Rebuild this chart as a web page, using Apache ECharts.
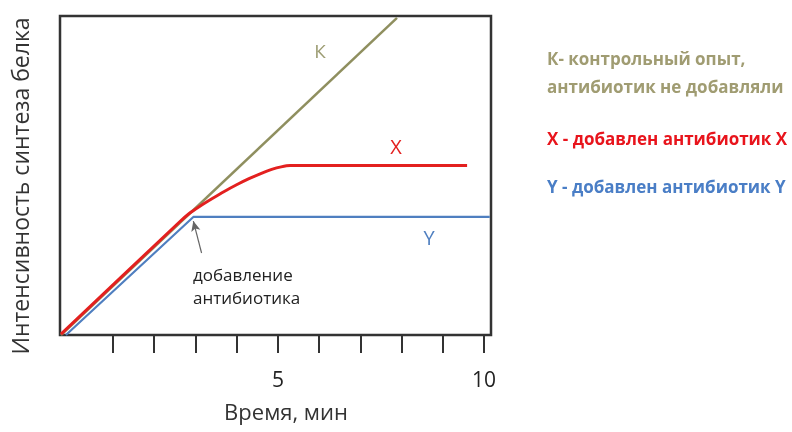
<!DOCTYPE html>
<html><head><meta charset="utf-8">
<script src="https://cdn.jsdelivr.net/npm/echarts@6/dist/echarts.min.js"></script>
<style>html,body{margin:0;padding:0;background:#fff}#c{width:792px;height:432px}</style>
</head><body><div id="c"></div>
<script>
// Time (min) vs intensity (arbitrary units)
const seriesK = [[-0.26, 0.0], [7.89, 9.94]];
const seriesX = [[-0.26, 0.03], [2.62, 3.55], [2.85, 3.81], [3.1, 4.03], [3.4, 4.27], [3.7, 4.50], [4.0, 4.71], [4.3, 4.90], [4.6, 5.07], [4.85, 5.19], [5.08, 5.27], [5.3, 5.31], [9.59, 5.31]];
const seriesY = [[-0.14, 0.0], [2.95, 3.70], [10.14, 3.70]];
const tickValues = [1, 2, 3, 4, 5, 6, 7, 8, 9, 10];
const tickLabels = {5: '5', 10: '10'};
const arrowFrom = [3.15, 2.57];
const arrowTo = [2.95, 3.57];

const colK = '#8f8f5f', colX = '#e3201f', colY = '#4f7fc0';
const chart = echarts.init(document.getElementById('c'));
const font = 'Open Sans';
chart.setOption({
  animation: false,
  grid: [
    {left: 60, right: 301, top: 16, bottom: 97, show: true, borderColor: '#333', borderWidth: 2.5},
    {left: 113, right: 308, top: 16, bottom: 97}
  ],
  xAxis: [
    {gridIndex: 0, type: 'value', min: -0.284, max: 10.17, show: false},
    {gridIndex: 1, type: 'value', min: tickValues[0], max: tickValues[tickValues.length - 1], interval: 1,
     axisLine: {show: false}, splitLine: {show: false},
     axisTick: {show: true, inside: false, length: 18, lineStyle: {color: '#333', width: 2}},
     axisLabel: {margin: 36, fontSize: 21, color: '#222', fontFamily: font,
       formatter: v => tickLabels[v] || ''}}
  ],
  yAxis: [
    {gridIndex: 0, type: 'value', min: 0, max: 10, show: false},
    {gridIndex: 1, type: 'value', min: 0, max: 10, show: false}
  ],
  series: [
    {type: 'line', xAxisIndex: 0, yAxisIndex: 0, data: seriesK, symbol: 'none',
     lineStyle: {color: colK, width: 2.5}},
    {type: 'line', xAxisIndex: 0, yAxisIndex: 0, data: seriesY, symbol: 'none',
     lineStyle: {color: colY, width: 2.2},
     markLine: {silent: true, symbol: ['none', 'arrow'], symbolSize: [7, 10], label: {show: false},
       lineStyle: {color: '#666', width: 1.2, type: 'solid'},
       data: [[{coord: arrowFrom}, {coord: arrowTo}]]}},
    {type: 'line', xAxisIndex: 0, yAxisIndex: 0, data: seriesX, symbol: 'none', smooth: 0.2,
     lineStyle: {color: colX, width: 3}}
  ],
  graphic: [
    {type: 'text', x: 22, y: 186, rotation: Math.PI / 2, style: {text: 'Интенсивность синтеза белка', font: '23px "Open Sans"', fill: '#333', textAlign: 'center', textVerticalAlign: 'middle'}},
    {type: 'text', x: 286, y: 414, style: {text: 'Время, мин', font: '22px "Open Sans"', fill: '#333', textAlign: 'center', textVerticalAlign: 'middle'}},
    {type: 'text', x: 320, y: 53, style: {text: 'К', font: '19px "Open Sans"', fill: '#9c9c72', textAlign: 'center', textVerticalAlign: 'middle'}},
    {type: 'text', x: 396, y: 148, style: {text: 'X', font: '20px "Open Sans"', fill: colX, textAlign: 'center', textVerticalAlign: 'middle'}},
    {type: 'text', x: 429, y: 239, style: {text: 'Y', font: '20px "Open Sans"', fill: colY, textAlign: 'center', textVerticalAlign: 'middle'}},
    {type: 'text', x: 193, y: 276, style: {text: 'добавление', font: '17px "Open Sans"', fill: '#222', textVerticalAlign: 'middle'}},
    {type: 'text', x: 193, y: 299, style: {text: 'антибиотика', font: '17px "Open Sans"', fill: '#222', textVerticalAlign: 'middle'}},
    {type: 'text', x: 547, y: 60, style: {text: 'К- контрольный опыт,', font: 'bold 17px "Open Sans"', fill: '#a09c72', textVerticalAlign: 'middle'}},
    {type: 'text', x: 547, y: 88, style: {text: 'антибиотик не добавляли', font: 'bold 17px "Open Sans"', fill: '#a09c72', textVerticalAlign: 'middle'}},
    {type: 'text', x: 547, y: 140, style: {text: 'X - добавлен антибиотик X', font: 'bold 17px "Open Sans"', fill: '#e8141c', textVerticalAlign: 'middle'}},
    {type: 'text', x: 547, y: 188, style: {text: 'Y - добавлен антибиотик Y', font: 'bold 17px "Open Sans"', fill: '#4a7ec6', textVerticalAlign: 'middle'}}
  ]
});
</script></body></html>
